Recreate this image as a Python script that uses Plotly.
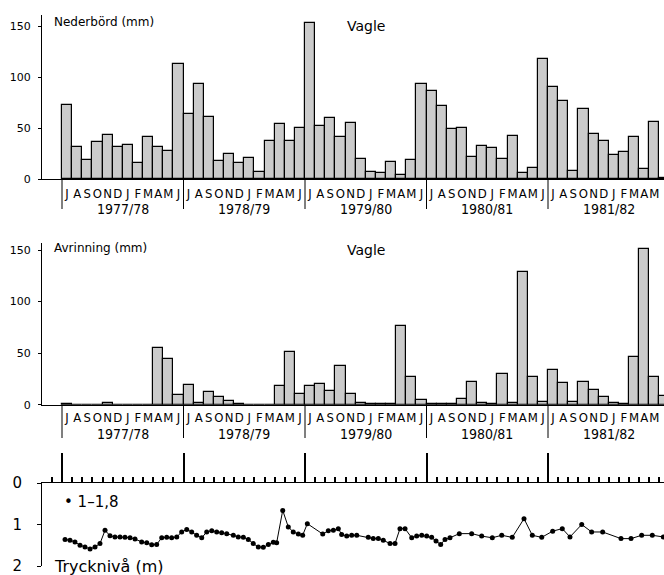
import plotly.graph_objects as go

# ---------------- data ----------------
months = ["J", "A", "S", "O", "N", "D", "J", "F", "M", "A", "M", "J"]
years = ["1977/78", "1978/79", "1979/80", "1980/81", "1981/82"]

nederbord = [
    73, 31, 19, 36, 43, 31, 33, 16, 41, 31, 27, 113,
    64, 93, 61, 18, 25, 16, 21, 7, 37, 54, 37, 50,
    153, 52, 60, 41, 55, 20, 7, 6, 17, 4, 19, 93,
    86, 72, 49, 50, 22, 32, 30, 20, 42, 6, 11, 118,
    90, 76, 8, 69, 44, 37, 24, 26, 41, 10, 56, 1,
]

avrinning = [
    1, 0, 0, 0, 2, 0, 0, 0, 0, 55, 44, 9,
    19, 2, 12, 7, 4, 1, 0, 0, 0, 18, 51, 10,
    18, 20, 13, 38, 10, 1.5, 0.5, 0.5, 0.3, 76, 27, 5,
    1, 0.5, 1, 6, 22, 1.5, 1, 30, 2, 129, 27, 3,
    34, 21, 3, 22, 14, 7, 2, 1, 46, 151, 27, 8,
]

# pressure level: time in months since 1 July 1977, level in m
tryck_t = [
    0.30, 0.79, 1.28, 1.78, 2.27, 2.77, 3.26, 3.75, 4.25, 4.74, 5.23, 5.73,
    6.22, 6.72, 7.21, 7.87, 8.37, 8.86, 9.35, 9.85, 10.34, 10.83, 11.33, 11.82,
    12.32, 12.81, 13.30, 13.80, 14.29, 14.79, 15.28, 15.77, 16.27, 16.92, 17.41,
    17.91, 18.40, 18.89, 19.39, 19.88, 20.38, 20.87, 21.20, 21.80, 22.35, 22.84,
    23.34, 23.77, 24.23, 25.75, 26.30, 26.80, 27.29, 27.62, 28.12, 28.61, 29.11,
    30.25, 30.74, 31.24, 31.73, 32.40, 32.89, 33.38, 33.88, 34.54, 35.03, 35.53,
    36.02, 36.51, 36.94, 37.40, 37.83, 38.32, 39.24, 40.46, 41.45, 42.50, 43.43,
    44.47, 45.63, 46.45, 47.38, 48.46, 49.41, 50.17, 51.33, 52.31, 53.40, 55.21,
    56.20, 57.25, 58.30, 59.39,
]
tryck_niva = [
    1.36, 1.38, 1.42, 1.50, 1.54, 1.59, 1.54, 1.46, 1.14, 1.27, 1.30, 1.30,
    1.31, 1.32, 1.35, 1.42, 1.44, 1.49, 1.48, 1.32, 1.31, 1.32, 1.30, 1.18,
    1.12, 1.18, 1.26, 1.32, 1.18, 1.15, 1.18, 1.20, 1.22, 1.26, 1.30,
    1.31, 1.36, 1.46, 1.54, 1.55, 1.48, 1.43, 1.44, 0.66, 1.06, 1.18,
    1.23, 1.26, 0.98, 1.23, 1.15, 1.14, 1.10, 1.24, 1.28, 1.26, 1.26,
    1.31, 1.34, 1.34, 1.38, 1.46, 1.46, 1.10, 1.10, 1.32, 1.28, 1.26,
    1.28, 1.31, 1.40, 1.48, 1.36, 1.32, 1.22, 1.22, 1.28, 1.32, 1.26,
    1.31, 0.86, 1.26, 1.31, 1.16, 1.10, 1.30, 1.00, 1.18, 1.18, 1.34,
    1.34, 1.26, 1.26, 1.30,
]

# ---------------- layout helpers ----------------
W, H = 664, 575
X_ORIGIN_PX = 62.0      # pixel of 1 July 1977
MONTH_PX = 10.125       # pixels per month
AXIS_PX = 42.0          # y-axis position


def mx(px):
    return (px - X_ORIGIN_PX) / MONTH_PX


def py(px):
    return 1 - px / H


XR = [mx(AXIS_PX), mx(W)]
XD = [AXIS_PX / W, 1]

n = len(nederbord)
bar_x = [i + 0.5 for i in range(n)]
month_text = [months[i % 12] for i in range(n)]

NARROW = "Liberation Sans Narrow, DejaVu Sans Condensed, Arial Narrow, Liberation Sans, sans-serif"
SANS = "DejaVu Sans, Liberation Sans, sans-serif"

bar_marker = dict(color="#cbcbcb", line=dict(color="black", width=1.2))

fig = go.Figure()
fig.add_trace(go.Bar(x=bar_x, y=nederbord, width=1, marker=bar_marker,
                     xaxis="x", yaxis="y", hoverinfo="skip"))
fig.add_trace(go.Bar(x=bar_x, y=avrinning, width=1, marker=bar_marker,
                     xaxis="x2", yaxis="y2", hoverinfo="skip"))
fig.add_trace(go.Scatter(x=tryck_t, y=tryck_niva, mode="lines+markers",
                         line=dict(color="black", width=1),
                         marker=dict(color="black", size=5),
                         xaxis="x3", yaxis="y3", hoverinfo="skip"))

# panel geometry (pixel rows)
TOP = dict(base=179.0, top=15.0, ymax=160.8, year_y=209, div_end=209, standoff=2)
MID = dict(base=404.7, top=243.0, ymax=156.8, year_y=434, div_end=438, standoff=1)
BOT = dict(base=483.0, bottom=566.0)


def month_axis(p, anchor):
    return dict(
        domain=XD, range=XR, anchor=anchor, showline=True, linecolor="black",
        linewidth=1, showgrid=False, zeroline=False, ticks="",
        tickmode="array", tickvals=bar_x, ticktext=month_text, tickangle=0,
        tickfont=dict(family=NARROW, size=13, color="black"),
        ticklabelstandoff=p["standoff"],
    )


def value_axis(p, anchor):
    return dict(
        domain=[py(p["base"]), py(p["top"])], range=[0, p["ymax"]], anchor=anchor,
        showline=True, linecolor="black", linewidth=1, showgrid=False,
        zeroline=False, ticks="outside", ticklen=3, tickwidth=1, tickcolor="black",
        tickmode="array", tickvals=[0, 50, 100, 150],
        tickfont=dict(family=SANS, size=11, color="black"), ticklabelstandoff=5,
    )


layout = dict(
    width=W, height=H, margin=dict(l=0, r=0, t=0, b=0, autoexpand=False),
    paper_bgcolor="white", plot_bgcolor="white", showlegend=False,
    bargap=0,
    xaxis=month_axis(TOP, "y"),
    yaxis=value_axis(TOP, "x"),
    xaxis2=month_axis(MID, "y2"),
    yaxis2=value_axis(MID, "x2"),
    xaxis3=dict(
        domain=XD, range=XR, anchor="y3", side="top", showline=True,
        linecolor="black", linewidth=1, showgrid=False, zeroline=False,
        ticks="outside", ticklen=29, tickwidth=1.5, tickcolor="black",
        tickmode="linear", tick0=0, dtick=12, showticklabels=False,
        minor=dict(ticks="outside", ticklen=5, tickwidth=1.5, tickcolor="black",
                   tick0=0, dtick=1, showgrid=False),
    ),
    yaxis3=dict(
        domain=[py(BOT["bottom"]), py(BOT["base"])], range=[2, 0], anchor="x3",
        showline=True, linecolor="black", linewidth=1, showgrid=False,
        zeroline=False, ticks="outside", ticklen=4, tickwidth=1, tickcolor="black",
        tickmode="array", tickvals=[0, 1, 2], ticklabeloverflow="allow",
        tickfont=dict(family=SANS, size=15, color="black"), ticklabelstandoff=12,
    ),
)

shapes = []
annotations = []
for p, xref in ((TOP, "x"), (MID, "x2")):
    for k in range(len(years) + 1):
        shapes.append(dict(type="line", xref=xref, yref="paper",
                           x0=12 * k, x1=12 * k,
                           y0=py(p["base"]), y1=py(p["div_end"]),
                           line=dict(color="black", width=1)))
    for k, yr in enumerate(years):
        annotations.append(dict(text=yr, xref=xref, yref="paper", x=12 * k + 6,
                                y=py(p["year_y"]), showarrow=False,
                                xanchor="center", yanchor="middle",
                                font=dict(family=NARROW, size=14, color="black")))

annotations += [
    dict(text="Nederbörd (mm)", xref="paper", yref="paper", x=52 / W, y=py(22),
         xanchor="left", yanchor="middle", showarrow=False,
         font=dict(family=SANS, size=12, color="black")),
    dict(text="Vagle", xref="paper", yref="paper", x=366 / W, y=py(26),
         xanchor="center", yanchor="middle", showarrow=False,
         font=dict(family=SANS, size=14, color="black")),
    dict(text="Avrinning (mm)", xref="paper", yref="paper", x=52 / W, y=py(248),
         xanchor="left", yanchor="middle", showarrow=False,
         font=dict(family=SANS, size=12, color="black")),
    dict(text="Vagle", xref="paper", yref="paper", x=366 / W, y=py(250),
         xanchor="center", yanchor="middle", showarrow=False,
         font=dict(family=SANS, size=14, color="black")),
    dict(text="• 1–1,8", xref="paper", yref="paper", x=62 / W, y=py(502),
         xanchor="left", yanchor="middle", showarrow=False,
         font=dict(family=SANS, size=15, color="black")),
    dict(text="Trycknivå (m)", xref="paper", yref="paper", x=52 / W, y=py(566),
         xanchor="left", yanchor="middle", showarrow=False,
         font=dict(family=SANS, size=16, color="black")),
]

layout["shapes"] = shapes
layout["annotations"] = annotations
fig.update_layout(**layout)

fig.write_html("out.html")
